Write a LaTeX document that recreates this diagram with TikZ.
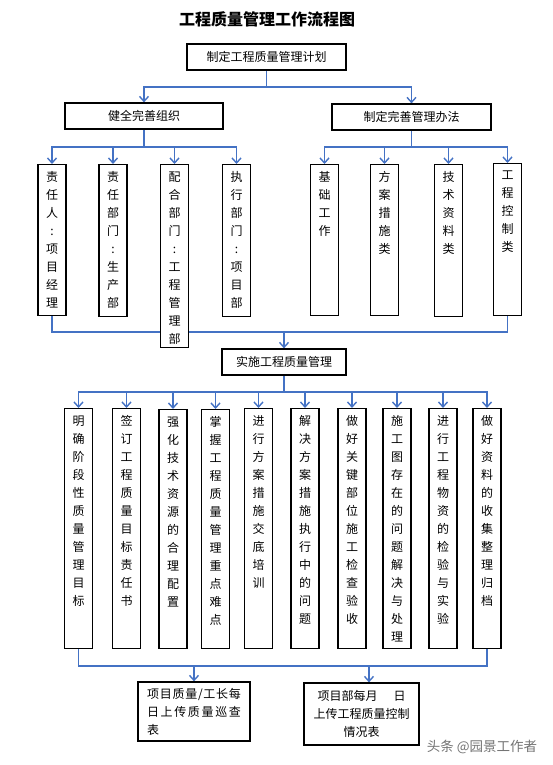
\documentclass[tikz,border=0pt]{standalone}
\usepackage{fontspec}
\setmainfont{Noto Sans CJK SC}
\usepackage{xcolor}
\usepackage{tikz}
\usetikzlibrary{arrows.meta, positioning, backgrounds}
\definecolor{linkblue}{RGB}{68,114,196}
\tikzset{
    box/.style={rectangle, draw, line width=1.2pt, fill=white, minimum height=26pt, text centered, font=\fontsize{12}{18}\selectfont},
    vbox/.style={rectangle, draw, line width=1.2pt, fill=white, minimum width=28pt, anchor=north},
    vtext/.style={anchor=north, align=center, inner sep=0pt, yshift=-7.5pt, font=\fontsize{12}{18}\selectfont},
    link/.style={linkblue, line width=1.4pt},
    arrow/.style={link, -{Straight Barb[length=5pt,width=9pt]}}
}

\begin{document}
\begin{tikzpicture}[
    x=1pt, y=-1pt,
    title/.style={font=\fontsize{16}{20}\selectfont\bfseries}, % heading
    wmark/.style={font=\fontsize{13.5}{16}\selectfont, text=black!55} % watermark
]
    \useasboundingbox (0,0) rectangle (553,765);

    % Title and plan
    \node[title] (title) at (267,19) {工程质量管理工作流程图};
    \node[box, minimum width=159pt] (plan) at (266.5,57) {制定工程质量管理计划};

    % Second level
    \node[box, minimum width=158pt] (org) at (144,116) {健全完善组织};
    \node[box, minimum width=159pt] (meth) at (411.5,117) {制定完善管理办法};

    % Organisation boxes
    \node[vbox, minimum height=151pt] (zr) at (52,164) {};
    \node[vtext] (zr-t) at (zr.north) {责\\任\\人\\:\\项\\目\\经\\理};
    \node[vbox, minimum height=152pt] (zb) at (113,164) {};
    \node[vtext] (zb-t) at (zb.north) {责\\任\\部\\门\\:\\生\\产\\部};
    \node[vbox, minimum height=183pt] (ph) at (174.5,164) {};
    \node[vtext] (ph-t) at (ph.north) {配\\合\\部\\门\\:\\工\\程\\管\\理\\部};
    \node[vbox, minimum height=152pt] (zx) at (236.5,164) {};
    \node[vtext] (zx-t) at (zx.north) {执\\行\\部\\门\\:\\项\\目\\部};

    % Method boxes
    \node[vbox, minimum height=151pt] (jc) at (324.5,164) {};
    \node[vtext] (jc-t) at (jc.north) {基\\础\\工\\作};
    \node[vbox, minimum height=151pt] (fa) at (384.5,164) {};
    \node[vtext] (fa-t) at (fa.north) {方\\案\\措\\施\\类};
    \node[vbox, minimum height=152pt] (js) at (448.5,164) {};
    \node[vtext] (js-t) at (js.north) {技\\术\\资\\料\\类};
    \node[vbox, minimum height=152pt] (gk) at (507.5,163) {};
    \node[vtext] (gk-t) at (gk.north) {工\\程\\控\\制\\类};

    % Implementation
    \node[box, minimum width=124pt] (ss) at (284,362) {实施工程质量管理};

    % Task boxes
    \node[vbox, minimum height=240pt] (b1) at (78.5,408) {};
    \node[vtext] (b1-t) at (b1.north) {明\\确\\阶\\段\\性\\质\\量\\管\\理\\目\\标};
    \node[vbox, minimum height=240pt] (b2) at (126.5,408) {};
    \node[vtext] (b2-t) at (b2.north) {签\\订\\工\\程\\质\\量\\目\\标\\责\\任\\书};
    \node[vbox, minimum height=239pt] (b3) at (173,409) {};
    \node[vtext] (b3-t) at (b3.north) {强\\化\\技\\术\\资\\源\\的\\合\\理\\配\\置};
    \node[vbox, minimum height=239pt] (b4) at (215.5,409) {};
    \node[vtext] (b4-t) at (b4.north) {掌\\握\\工\\程\\质\\量\\管\\理\\重\\点\\难\\点};
    \node[vbox, minimum height=240pt] (b5) at (258.5,408) {};
    \node[vtext] (b5-t) at (b5.north) {进\\行\\方\\案\\措\\施\\交\\底\\培\\训};
    \node[vbox, minimum height=240pt] (b6) at (305,408) {};
    \node[vtext] (b6-t) at (b6.north) {解\\决\\方\\案\\措\\施\\执\\行\\中\\的\\问\\题};
    \node[vbox, minimum height=240pt] (b7) at (352,408) {};
    \node[vtext] (b7-t) at (b7.north) {做\\好\\关\\键\\部\\位\\施\\工\\检\\查\\验\\收};
    \node[vbox, minimum height=240pt] (b8) at (397,408) {};
    \node[vtext] (b8-t) at (b8.north) {施\\工\\图\\存\\在\\的\\问\\题\\解\\决\\与\\处\\理};
    \node[vbox, minimum height=240pt] (b9) at (443,408) {};
    \node[vtext] (b9-t) at (b9.north) {进\\行\\工\\程\\物\\资\\的\\检\\验\\与\\实\\验};
    \node[vbox, minimum height=240pt] (b10) at (487,408) {};
    \node[vtext] (b10-t) at (b10.north) {做\\好\\资\\料\\的\\收\\集\\整\\理\\归\\档};

    % Reports
    \node[box, minimum width=112pt, minimum height=59pt, text width=94pt, align=left] (ra) at (194,711.5)
        {\makebox[94pt]{项\hfill 目\hfill 质\hfill 量\hfill /\hfill 工\hfill 长\hfill 每}\\
         \makebox[94pt]{日\hfill 上\hfill 传\hfill 质\hfill 量\hfill 巡\hfill 查}\\表};
    \node[box, minimum width=115pt, minimum height=62pt, align=center] (rb) at (361.5,714)
        {项目部每月\hspace{16pt}日\\上传工程质量控制\\情况表};

    % Watermark
    \node[wmark] (wm) at (482,747) {头条 @园景工作者};

    % Connections
    \begin{scope}[on background layer]
        \coordinate (s0) at (266.5,87);
        \draw[link] (plan.south) -- (s0);
        \draw[arrow] (s0) -| (org.north);
        \draw[arrow] (s0) -| (meth.north);

        \coordinate (s1) at (144,147);
        \draw[link] (org.south) -- (s1);
        \draw[arrow] (s1) -| (zr.north);
        \draw[arrow] (s1) -| (zb.north);
        \draw[arrow] (s1) -| (ph.north);
        \draw[arrow] (s1) -| (zx.north);

        \coordinate (s2) at (411.5,147);
        \draw[link] (meth.south) -- (s2);
        \draw[arrow] (s2) -| (jc.north);
        \draw[arrow] (s2) -| (fa.north);
        \draw[arrow] (s2) -| (js.north);
        \draw[arrow] (s2) -| (gk.north);

        \coordinate (s3) at (284,332);
        \draw[link] (zr.south) |- (s3) -| (gk.south);
        \draw[arrow] (s3) -- (ss.north);

        \coordinate (s4) at (284,392);
        \draw[link] (ss.south) -- (s4);
        \draw[arrow] (s4) -| (b1.north);
        \draw[arrow] (s4) -| (b2.north);
        \draw[arrow] (s4) -| (b3.north);
        \draw[arrow] (s4) -| (b4.north);
        \draw[arrow] (s4) -| (b5.north);
        \draw[arrow] (s4) -| (b6.north);
        \draw[arrow] (s4) -| (b7.north);
        \draw[arrow] (s4) -| (b8.north);
        \draw[arrow] (s4) -| (b9.north);
        \draw[arrow] (s4) -| (b10.north);

        \coordinate (s5) at (194,666);
        \coordinate (s6) at (369,666);
        \draw[link] (b1.south) |- (s5) -| (b10.south);
        \draw[arrow] (s5) -- (ra.north);
        \draw[arrow] (s6) -- (s6 |- rb.north);
    \end{scope}
\end{tikzpicture}
\end{document}
